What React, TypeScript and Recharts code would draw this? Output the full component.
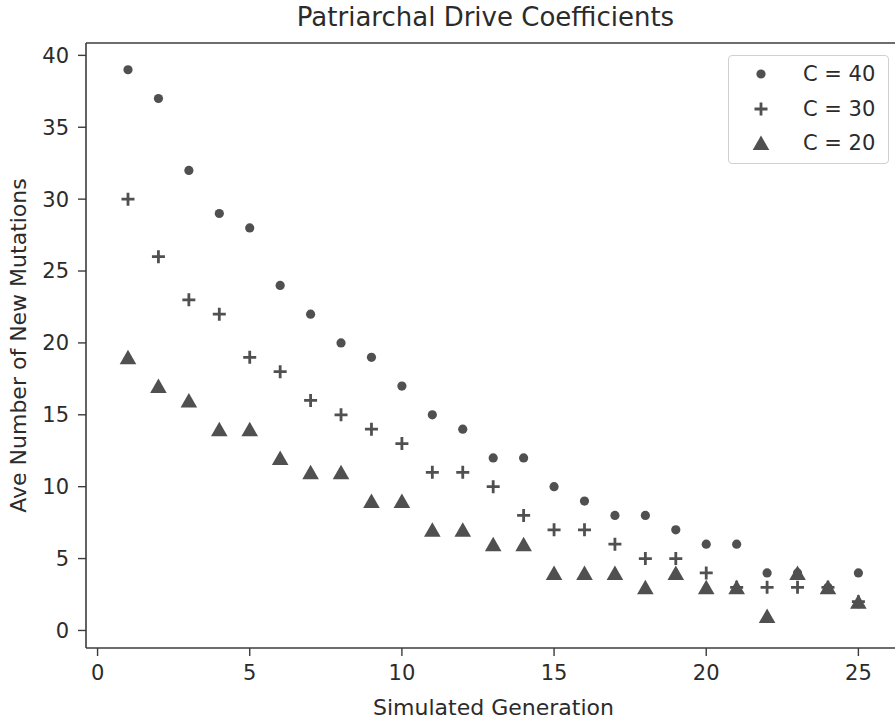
import React from "react";
import {
  ScatterChart,
  Scatter,
  XAxis,
  YAxis,
  Legend,
  Label,
  ReferenceLine,
} from "recharts";

const generations = [1, 2, 3, 4, 5, 6, 7, 8, 9, 10, 11, 12, 13, 14, 15, 16, 17, 18, 19, 20, 21, 22, 23, 24, 25];
const c40 = [39, 37, 32, 29, 28, 24, 22, 20, 19, 17, 15, 14, 12, 12, 10, 9, 8, 8, 7, 6, 6, 4, 4, 3, 4];
const c30 = [30, 26, 23, 22, 19, 18, 16, 15, 14, 13, 11, 11, 10, 8, 7, 7, 6, 5, 5, 4, 3, 3, 3, 3, 2];
const c20 = [19, 17, 16, 14, 14, 12, 11, 11, 9, 9, 7, 7, 6, 6, 4, 4, 4, 3, 4, 3, 3, 1, 4, 3, 2];

const xTicks = [0, 5, 10, 15, 20, 25];
const yTicks = [0, 5, 10, 15, 20, 25, 30, 35, 40];
const X_DOMAIN: [number, number] = [-0.38, 26.4];
const Y_DOMAIN: [number, number] = [-1.22, 40.86];

const MARK = "#505050";
const INK = "#2b2b2b";
const SPINE = "#3c3c3c";
const FONT = "DejaVu Sans";

const toPoints = (ys: number[]) => generations.map((g, i) => ({ x: g, y: ys[i] }));

const Dot = ({ cx, cy }: any) => <circle cx={cx} cy={cy} r={4.6} fill={MARK} />;

const Plus = ({ cx, cy }: any) => (
  <path
    d={`M${cx - 6.5},${cy}H${cx + 6.5}M${cx},${cy - 6.5}V${cy + 6.5}`}
    stroke={MARK}
    strokeWidth={2.8}
  />
);

const Tri = ({ cx, cy }: any) => (
  <path d={`M${cx},${cy - 7.5}L${cx + 8.3},${cy + 7}L${cx - 8.3},${cy + 7}Z`} fill={MARK} />
);

const series = [
  { name: "C = 40", shape: Dot },
  { name: "C = 30", shape: Plus },
  { name: "C = 20", shape: Tri },
];

const LegendBox = () => (
  <div
    style={{
      width: "100%",
      height: "100%",
      boxSizing: "border-box",
      border: "1.3px solid #d0d0d0",
      borderRadius: 4,
      background: "rgba(255,255,255,0.8)",
      padding: "1px 0",
    }}
  >
    {series.map((s) => {
      const Shape = s.shape;
      return (
        <div key={s.name} style={{ display: "flex", alignItems: "center", height: 34.5 }}>
          <svg width={64} height={34}>
            <Shape cx={32} cy={17} />
          </svg>
          <span style={{ marginLeft: 10, fontSize: 21, fontFamily: FONT, color: INK }}>{s.name}</span>
        </div>
      );
    })}
  </div>
);

export default function App() {
  const tickStyle = { fill: INK, fontSize: 21, fontFamily: FONT };
  return (
    <div
      style={{
        position: "absolute",
        left: 0,
        top: 0,
        width: 895,
        height: 721,
        overflow: "hidden",
        background: "#fff",
      }}
    >
      <div
        style={{
          position: "absolute",
          left: 78,
          width: 815,
          top: 2,
          textAlign: "center",
          fontFamily: FONT,
          fontSize: 26,
          color: INK,
        }}
      >
        Patriarchal Drive Coefficients
      </div>
      <ScatterChart width={910} height={721} margin={{ top: 43, right: 9, bottom: 0, left: 0 }}>
        <XAxis
          type="number"
          dataKey="x"
          domain={X_DOMAIN}
          ticks={xTicks}
          allowDataOverflow
          height={73}
          tick={tickStyle}
          tickSize={8}
          tickMargin={9}
          axisLine={{ stroke: SPINE, strokeWidth: 1.6 }}
          tickLine={{ stroke: SPINE, strokeWidth: 1.4 }}
        >
          <Label
            content={({ viewBox }: any) => (
              <text
                x={viewBox.x + viewBox.width / 2}
                y={viewBox.y + 67}
                textAnchor="middle"
                fill={INK}
                fontSize={22}
                fontFamily={FONT}
              >
                Simulated Generation
              </text>
            )}
          />
        </XAxis>
        <YAxis
          type="number"
          dataKey="y"
          domain={Y_DOMAIN}
          ticks={yTicks}
          allowDataOverflow
          width={86}
          tick={tickStyle}
          tickSize={8}
          tickMargin={9}
          axisLine={{ stroke: SPINE, strokeWidth: 1.6 }}
          tickLine={{ stroke: SPINE, strokeWidth: 1.4 }}
        >
          <Label
            content={({ viewBox }: any) => {
              const cx = viewBox.x + 18;
              const cy = viewBox.y + viewBox.height / 2;
              return (
                <text
                  x={cx}
                  y={cy}
                  transform={`rotate(-90 ${cx} ${cy})`}
                  textAnchor="middle"
                  dominantBaseline="central"
                  fill={INK}
                  fontSize={22}
                  fontFamily={FONT}
                >
                  Ave Number of New Mutations
                </text>
              );
            }}
          />
        </YAxis>
        <ReferenceLine y={Y_DOMAIN[1]} stroke={SPINE} strokeWidth={1.6} />
        <Scatter name="C = 40" data={toPoints(c40)} shape={Dot} isAnimationActive={false} />
        <Scatter name="C = 30" data={toPoints(c30)} shape={Plus} isAnimationActive={false} />
        <Scatter name="C = 20" data={toPoints(c20)} shape={Tri} isAnimationActive={false} />
        <Legend
          layout="vertical"
          align="center"
          verticalAlign="middle"
          content={() => <LegendBox />}
          wrapperStyle={{ left: 728, top: 55, width: 161, height: 109 }}
        />
      </ScatterChart>
    </div>
  );
}
